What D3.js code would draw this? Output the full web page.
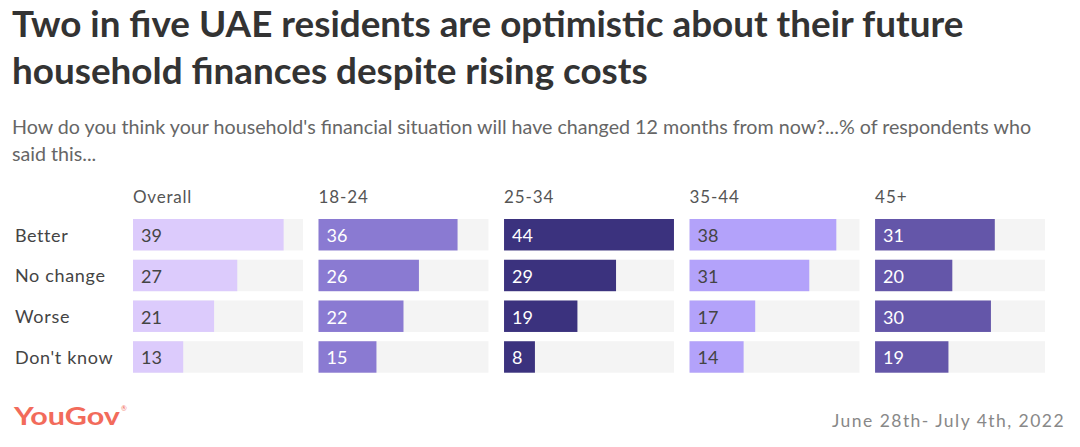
<!DOCTYPE html>
<html><head><meta charset="utf-8">
<script src="https://cdn.jsdelivr.net/npm/d3@7"></script>
<style>html,body{margin:0;padding:0;background:#fff;}svg{display:block;font-family:Lato,"Open Sans",sans-serif;}</style>
</head><body><svg id="c" width="1080" height="447"></svg>
<script>
const categories = ["Better","No change","Worse","Don't know"];
const groups = ["Overall","18-24","25-34","35-44","45+"];
const overall = [39,27,21,13];
const age18_24 = [36,26,22,15];
const age25_34 = [44,29,19,8];
const age35_44 = [38,31,17,14];
const age45plus = [31,20,30,19];
const seriesValues = [overall, age18_24, age25_34, age35_44, age45plus];
const groupColors = ["#dccbfc","#8a7ad2","#3b327e","#b3a2fa","#6456a9"];
const labelColors = ["#444","#fff","#fff","#444","#fff"];

const svg = d3.select("#c");

function fitText(sel, target){
  let fs = parseFloat(sel.attr("font-size"));
  for(let i=0;i<4;i++){
    const w = sel.node().getComputedTextLength();
    fs = fs * target / w;
    sel.attr("font-size", fs);
  }
}
function stretch(sel, target){
  const w = sel.node().getComputedTextLength();
  const n = sel.text().length;
  sel.attr("letter-spacing", (target - w) / n);
}

const t1 = svg.append("text").attr("x",12).attr("y",37).attr("font-size",31).attr("font-weight",700).attr("fill","#333")
  .text("Two in five UAE residents are optimistic about their future");
fitText(t1, 951);
const t2 = svg.append("text").attr("x",12).attr("y",84).attr("font-size",t1.attr("font-size")).attr("font-weight",700).attr("fill","#333")
  .text("household finances despite rising costs");
const s1 = svg.append("text").attr("x",12).attr("y",134).attr("font-size",18).attr("fill","#666")
  .text("How do you think your household's financial situation will have changed 12 months from now?...% of respondents who");
fitText(s1, 1019);
svg.append("text").attr("x",12).attr("y",161).attr("font-size",s1.attr("font-size")).attr("fill","#666").text("said this...");

const px = d3.scaleBand().domain(groups).range([133,1045]).paddingInner(0.084);
const y = d3.scaleBand().domain(categories).range([219,372.7]).paddingInner(0.228);
const x = d3.scaleLinear().domain([0, d3.max(seriesValues.flat())]).range([0, px.bandwidth()]);

// row labels
svg.append("g").selectAll("text").data(categories).join("text")
  .attr("x",15).attr("y",d=>y(d)+y.bandwidth()/2+7).attr("font-size",18).attr("fill","#444").text(d=>d)
  .each(function(){ const s=d3.select(this); stretch(s, s.node().getComputedTextLength()*1.07); });

groups.forEach((g,gi)=>{
  const gx = px(g);
  const pg = svg.append("g").attr("transform",`translate(${gx},0)`);
  const h = pg.append("text").attr("x",0).attr("y",203).attr("font-size",17).attr("fill","#555").text(g);
  stretch(h, h.node().getComputedTextLength()*1.1);
  pg.selectAll("rect.track").data(categories).join("rect").attr("class","track")
    .attr("x",0).attr("y",d=>y(d)).attr("width",px.bandwidth()).attr("height",y.bandwidth()).attr("fill","#f4f4f4");
  pg.selectAll("rect.bar").data(seriesValues[gi]).join("rect").attr("class","bar")
    .attr("x",0).attr("y",(d,i)=>y(categories[i])).attr("width",d=>x(d)).attr("height",y.bandwidth()).attr("fill",groupColors[gi]);
  pg.selectAll("text.val").data(seriesValues[gi]).join("text").attr("class","val")
    .attr("x",8).attr("y",(d,i)=>y(categories[i])+y.bandwidth()/2+7.5).attr("font-size",18).attr("fill",labelColors[gi]).text(d=>d);
});

// logo
svg.append("text").attr("x",14).attr("y",424.5).attr("font-size",24).attr("font-weight",700).attr("fill","#f26b5b")
  .attr("textLength",106).attr("lengthAdjust","spacingAndGlyphs").text("YouGov");
svg.append("text").attr("x",121).attr("y",411).attr("font-size",7).attr("fill","#f26b5b").text("®");
const dt = svg.append("text").attr("x",832).attr("y",427).attr("font-size",17.5).attr("fill","#888").text("June 28th- July 4th, 2022");
stretch(dt, 233);
</script></body></html>
